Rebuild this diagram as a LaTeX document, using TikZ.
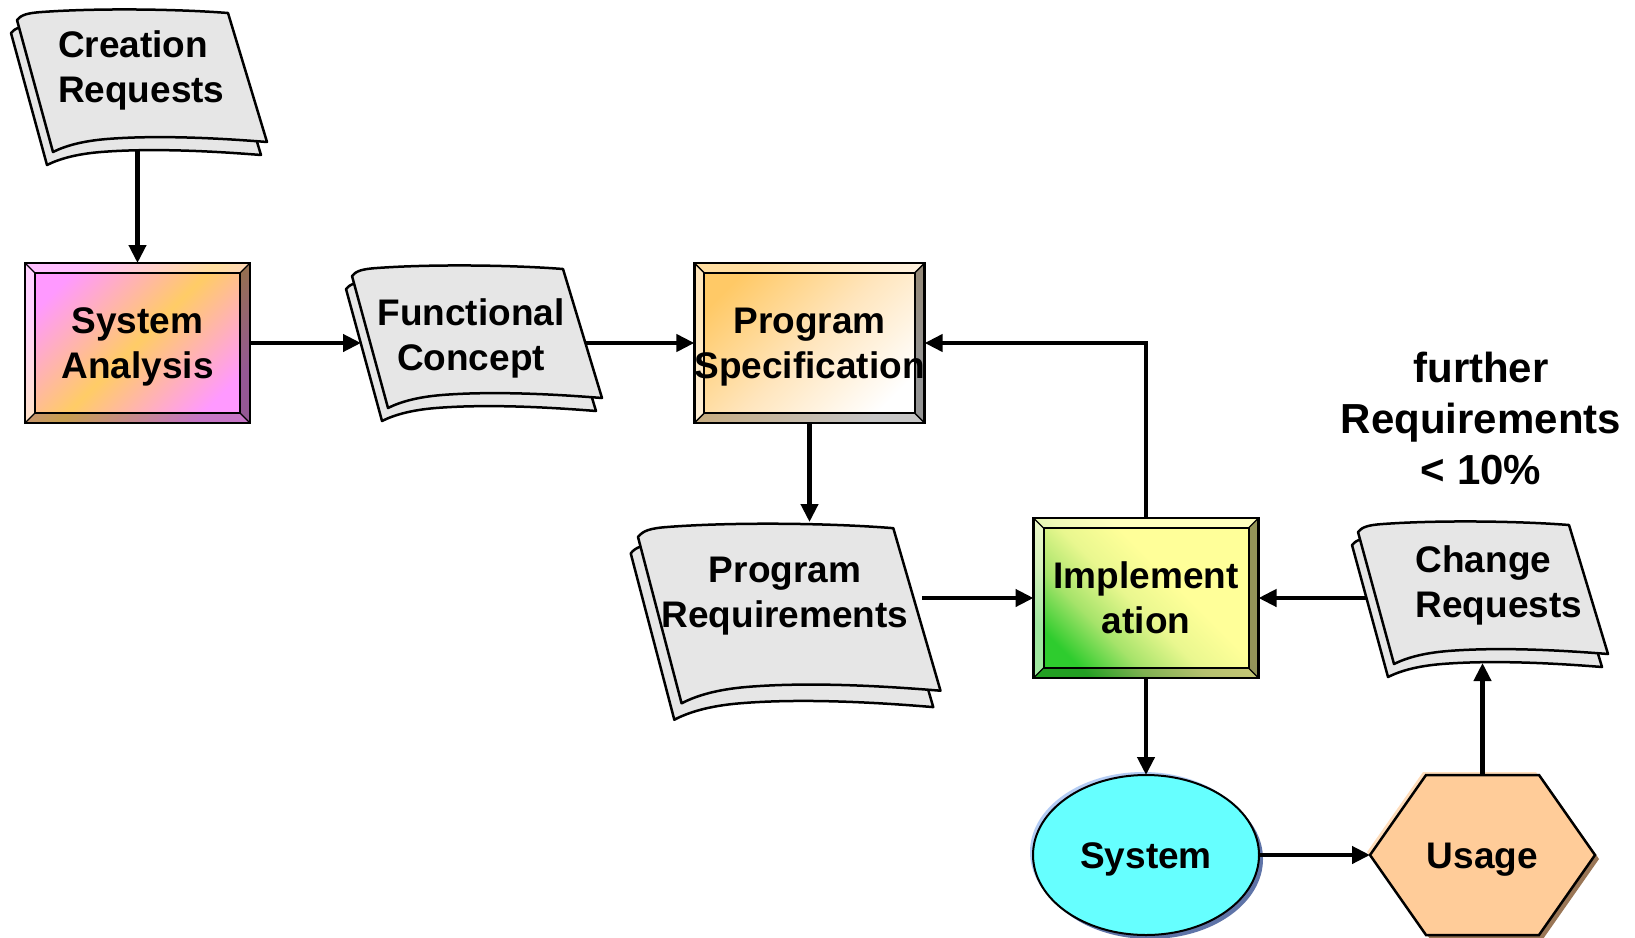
\documentclass[tikz,border=0pt]{standalone}
\usepackage{fontspec}
\setmainfont{Liberation Sans}
\usetikzlibrary{arrows.meta,calc,shapes.geometric}

\definecolor{sheetgray}{HTML}{E6E6E6}
\definecolor{sapink}{HTML}{FF99FF}
\definecolor{saorange}{HTML}{FFCC66}
\definecolor{psorange}{HTML}{FFC966}
\definecolor{pspeach}{HTML}{FFE5BC}
\definecolor{implgreen}{HTML}{2ECC2E}
\definecolor{implmid}{HTML}{A6E36A}
\definecolor{impllight}{HTML}{E9F78F}
\definecolor{implyellow}{HTML}{FFFF99}
\definecolor{sysfill}{HTML}{66FFFF}
\definecolor{syshalo}{HTML}{B4CCF4}
\definecolor{sysshadow}{HTML}{5F74A8}
\definecolor{usefill}{HTML}{FFCC99}
\definecolor{usehalo}{HTML}{FFDDBB}
\definecolor{useshadow}{HTML}{9A7656}

% diagonal fills of the three process boxes
\pgfdeclarehorizontalshading{sashade}{100bp}{color(0bp)=(sapink); color(25bp)=(sapink); color(50bp)=(saorange); color(75bp)=(sapink); color(100bp)=(sapink)}
\pgfdeclarehorizontalshading{psshade}{100bp}{color(0bp)=(psorange); color(25bp)=(psorange); color(50bp)=(pspeach); color(75bp)=(white); color(100bp)=(white)}
\pgfdeclarehorizontalshading{implshade}{100bp}{color(0bp)=(implgreen); color(25bp)=(implgreen); color(36bp)=(implmid); color(47bp)=(impllight); color(58bp)=(implyellow); color(100bp)=(implyellow)}

\newcommand\lblfont{\bfseries\fontsize{37}{45}\selectfont}
\newcommand\notefont{\bfseries\fontsize{42}{51}\selectfont}

\tikzset{
  captext/.style={font=\lblfont, align=center, inner sep=0pt, outer sep=0pt,
    text height=26.5pt, text depth=0pt},
  twolines/.style={text height=71.5pt},
  % raised box with bevelled frame
  bevelbox/.style={captext, twolines, draw=black, line width=2.5pt,
    minimum width=225pt, minimum height=160pt,
    path picture={
      \path (path picture bounding box.north west) coordinate (b1)
            (path picture bounding box.north east) coordinate (b2)
            (path picture bounding box.south east) coordinate (b3)
            (path picture bounding box.south west) coordinate (b4);
      \path ($(b1)+(10,10)$) coordinate (c1) ($(b2)+(-10,10)$) coordinate (c2)
            ($(b3)+(-10,-10)$) coordinate (c3) ($(b4)+(10,-10)$) coordinate (c4);
      \fill[white, opacity=.38] (b1) -- (b2) -- (c2) -- (c1) -- cycle;
      \fill[white, opacity=.55] (b1) -- (c1) -- (c4) -- (b4) -- cycle;
      \fill[black, opacity=.42] (b2) -- (b3) -- (c3) -- (c2) -- cycle;
      \fill[black, opacity=.22] (b4) -- (c4) -- (c3) -- (b3) -- cycle;
      \draw[line width=2pt] (c1) rectangle (c3);
      \draw[line width=1.3pt] (b1) -- (c1) (b2) -- (c2) (b3) -- (c3) (b4) -- (c4);
      \draw[line width=2.5pt] (b1) rectangle (b3);
    }},
  sheet/.style={fill=sheetgray, draw=black, line width=2.5pt, line join=round},
  % two stacked, curled sheets of paper
  docsheets/.pic={
    \begin{scope}[shift={(-6,13)}]
      \path[sheet] (0,0) .. controls (4,-5) and (10,-7) .. (25,-8)
        .. controls (80,-12) and (160,-11) .. (211,-7) -- (250,122)
        .. controls (200,118) and (140,115) .. (90,119)
        .. controls (65,121) and (48,126) .. (36,132) -- cycle;
    \end{scope}
    \path[sheet] (0,0) .. controls (4,-5) and (10,-7) .. (25,-8)
      .. controls (80,-12) and (160,-11) .. (211,-7) -- (250,122)
      .. controls (200,118) and (140,115) .. (90,119)
      .. controls (65,121) and (48,126) .. (36,132) -- cycle;
  },
  flow/.style={line width=4.2pt, -{Triangle[length=18pt,width=17pt]}},
}

\begin{document}
\begin{tikzpicture}[x=1pt, y=-1pt]
\fill[white] (0,0) rectangle (1635,937);
\useasboundingbox (0,0) rectangle (1635,937);

% documents
\pic at (17,20) {docsheets};
\pic at (352,276) {docsheets};
\pic[xscale=1.21, yscale=1.26] at (638,537) {docsheets};
\pic at (1358,532) {docsheets};

\node[captext, twolines, anchor=west, align=left] (creq) at (58,67) {Creation\\Requests};
\node[captext, twolines] (fc) at (471,335) {Functional\\Concept};
\node[captext, twolines] (preq) at (785,591.5) {Program\\Requirements};
\node[captext, twolines, anchor=west, align=left] (chreq) at (1415.5,582) {Change\\Requests};

\coordinate (creq-s) at (137.5,151);
\coordinate (fc-w) at (361,343);
\coordinate (fc-e) at (585,343);
\coordinate (preq-n) at (809.5,522);
\coordinate (preq-e) at (922,598);
\coordinate (chreq-w) at (1367,598);
\coordinate (chreq-s) at (1482.5,663);

% process boxes
\node[bevelbox, shading=sashade, shading angle=-45] (sa) at (137.5,343) {System\\Analysis};
\node[bevelbox, shading=psshade, shading angle=-45] (ps) at (809.5,343) {Program\\Specification};
\node[bevelbox, shading=implshade, shading angle=45] (impl) at (1146,598) {Implement\\ation};

% the system
\fill[syshalo] (1143,852) ellipse [x radius=113, y radius=80];
\fill[sysshadow] (1150,859) ellipse [x radius=113, y radius=80];
\node[captext, ellipse, draw=black, fill=sysfill, line width=2pt,
      minimum width=226pt, minimum height=160pt] (sys) at (1146,855) {System};

% usage
\begin{scope}[shift={(1482.5,855)}]
  \foreach \d/\c in {-3/usehalo,4/useshadow}
    \fill[\c, shift={(\d,\d)}] (-112.5,0) -- (-56.5,-80) -- (56.5,-80) -- (112.5,0)
      -- (56.5,80) -- (-56.5,80) -- cycle;
  \filldraw[fill=usefill, draw=black, line width=2.5pt] (-112.5,0) -- (-56.5,-80)
    -- (56.5,-80) -- (112.5,0) -- (56.5,80) -- (-56.5,80) -- cycle;
\end{scope}
\node[captext, minimum width=225pt, minimum height=160pt] (usage) at (1482.5,855) {Usage};

\node[font=\notefont, align=center, inner sep=0pt, text height=132pt, text depth=0pt]
  (note) at (1481,418) {further\\Requirements\\< 10\%};

% flow
\draw[flow] (creq-s) -- (sa.north);
\draw[flow] (sa.east) -- (fc-w);
\draw[flow] (fc-e) -- (ps.west);
\draw[flow] (ps.south) -- (preq-n);
\draw[flow] (preq-e) -- (impl.west);
\draw[flow] (impl.north) |- (ps.east);
\draw[flow] (chreq-w) -- (impl.east);
\draw[flow] (impl.south) -- (sys.north);
\draw[flow] (sys.east) -- (usage.west);
\draw[flow] (usage.north) -- (chreq-s);
\end{tikzpicture}
\end{document}
